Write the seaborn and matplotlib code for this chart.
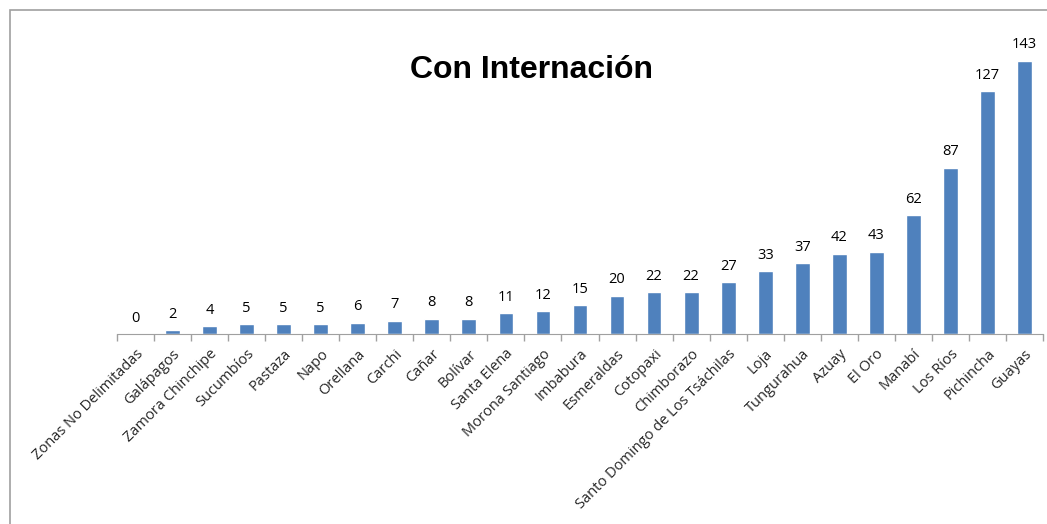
import matplotlib
matplotlib.use("Agg")
import matplotlib.pyplot as plt
import seaborn as sns
import pandas as pd
from matplotlib.patches import Rectangle

provincias = ["Zonas No Delimitadas", "Galápagos", "Zamora Chinchipe", "Sucumbíos",
              "Pastaza", "Napo", "Orellana", "Carchi", "Cañar", "Bolívar",
              "Santa Elena", "Morona Santiago", "Imbabura", "Esmeraldas", "Cotopaxi",
              "Chimborazo", "Santo Domingo de Los Tsáchilas", "Loja", "Tungurahua",
              "Azuay", "El Oro", "Manabí", "Los Ríos", "Pichincha", "Guayas"]
casos = [0, 2, 4, 5, 5, 5, 6, 7, 8, 8, 11, 12, 15, 20, 22, 22, 27, 33, 37, 42, 43,
         62, 87, 127, 143]

data = pd.DataFrame({"provincia": provincias, "casos": casos})

sns.set_style("white")
plt.rcParams["font.family"] = ["Open Sans", "DejaVu Sans"]

fig = plt.figure(figsize=(10.47, 5.24), dpi=100)
ax = fig.add_axes([117 / 1047, 1 - 334 / 524, (1043 - 117) / 1047, 306 / 524])

sns.barplot(data=data, x="provincia", y="casos", color="#4f81bd", width=0.4,
            saturation=1, ax=ax)
ax.set_xlim(-0.5, len(provincias) - 0.5)
ax.set_ylim(0, 160)

for i, v in enumerate(casos):
    ax.annotate(str(v), (i, v), xytext=(0, 6), textcoords="offset points",
                ha="center", va="bottom", fontsize=10.5, color="black")

for s in ["top", "right", "left"]:
    ax.spines[s].set_visible(False)
ax.spines["bottom"].set_color("#a0a0a0")
ax.set_yticks([])
ax.set_xlabel("")
ax.set_ylabel("")
ax.set_xticks(range(len(provincias)))
ax.set_xticklabels(provincias, rotation=45, ha="right", rotation_mode="anchor",
                   fontsize=10.5)
ax.tick_params(axis="x", which="major", length=0, pad=9)
ax.set_xticks([i - 0.5 for i in range(len(provincias) + 1)], minor=True)
ax.tick_params(axis="x", which="minor", bottom=True, length=5, color="#a0a0a0",
               width=1)

fig.text(531 / 1047, 1 - 70 / 524, "Con Internación", ha="center", va="center",
         fontsize=23, fontweight="bold", family="Liberation Sans", color="black")

fig.patches.append(Rectangle((10 / 1047, -0.1), 1.2, 1 - 10 / 524 + 0.1,
                             transform=fig.transFigure, fill=False,
                             edgecolor="#a0a0a0", linewidth=1.2))

fig.savefig("out.png", dpi=100)
